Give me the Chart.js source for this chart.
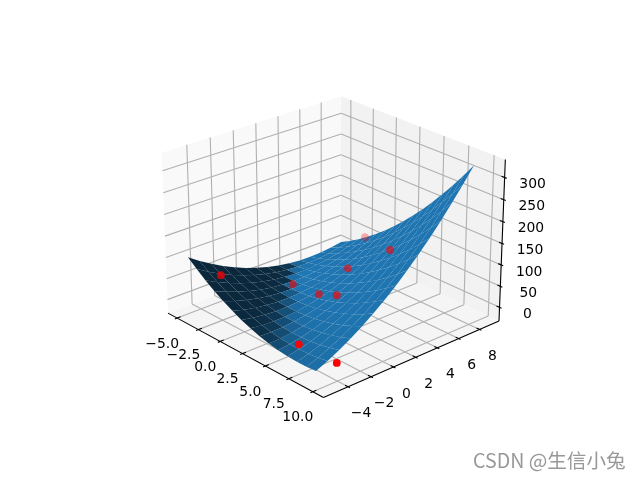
<!DOCTYPE html>
<html>
<head>
<meta charset="utf-8">
<style>html,body{margin:0;padding:0;background:#fff}canvas{display:block}</style>
<script src="https://cdn.jsdelivr.net/npm/chart.js@4"></script>
</head>
<body>
<canvas id="chart" width="640" height="480"></canvas>
<script>
// tick values and labels
const xTicks = [-5, -2.5, 0, 2.5, 5, 7.5, 10];
const xTickLabels = ["\u22125.0", "\u22122.5", "0.0", "2.5", "5.0", "7.5", "10.0"];
const yTicks = [-4, -2, 0, 2, 4, 6, 8];
const yTickLabels = ["\u22124", "\u22122", "0", "2", "4", "6", "8"];
const zTicks = [0, 50, 100, 150, 200, 250, 300];
const zTickLabels = ["0", "50", "100", "150", "200", "250", "300"];

// surface (one row per gridX value)
const gridX = [-5, -4, -3, -2, -1, 0, 1, 2, 3, 4, 5, 6, 7, 8, 9];
const gridY = [-5, -4, -3, -2, -1, 0, 1, 2, 3, 4, 5, 6, 7, 8, 9];
const surfaceZ = [
  [100.9, 82.4, 65.7, 50.7, 37.5, 26.0, 16.3, 8.3, 2.1, -2.3, -5.0, -5.9, -5.0, -2.4, 2.0],
  [83.3, 66.9, 52.4, 39.5, 28.5, 19.2, 11.6, 5.9, 1.8, -0.4, -0.9, 0.3, 3.4, 8.1, 14.7],
  [67.1, 53.0, 40.6, 29.9, 21.0, 13.9, 8.5, 4.9, 3.1, 3.0, 4.6, 8.1, 13.3, 20.2, 28.9],
  [52.4, 40.4, 30.2, 21.7, 15.0, 10.1, 6.9, 5.4, 5.8, 7.9, 11.7, 17.3, 24.7, 33.8, 44.7],
  [39.3, 29.4, 21.4, 15.1, 10.5, 7.8, 6.7, 7.5, 10.0, 14.2, 20.3, 28.0, 37.6, 48.9, 61.9],
  [27.6, 20.0, 14.1, 9.9, 7.6, 7.0, 8.1, 11.0, 15.7, 22.1, 30.3, 40.3, 52.0, 65.4, 80.7],
  [17.4, 11.9, 8.2, 6.3, 6.1, 7.6, 11.0, 16.1, 22.9, 31.5, 41.9, 54.0, 67.9, 83.6, 101.0],
  [8.7, 5.4, 3.9, 4.1, 6.1, 9.8, 15.3, 22.6, 31.6, 42.4, 54.9, 69.2, 85.3, 103.1, 122.7],
  [1.6, 0.5, 1.1, 3.5, 7.6, 13.5, 21.2, 30.6, 41.8, 54.8, 69.5, 86.0, 104.2, 124.2, 145.9],
  [-4.1, -3.1, -0.3, 4.3, 10.6, 18.7, 28.6, 40.2, 53.6, 68.7, 85.6, 104.2, 124.6, 146.8, 170.7],
  [-8.3, -5.1, -0.1, 6.7, 15.2, 25.4, 37.4, 51.2, 66.8, 84.1, 103.1, 123.9, 146.5, 170.9, 197.0],
  [-10.9, -5.5, 1.6, 10.5, 21.2, 33.6, 47.8, 63.8, 81.5, 101.0, 122.2, 145.2, 169.9, 196.4, 224.7],
  [-12.1, -4.5, 4.8, 15.9, 28.7, 43.3, 59.7, 77.8, 97.7, 119.3, 142.7, 167.9, 194.8, 223.5, 253.9],
  [-11.8, -2.1, 9.4, 22.7, 37.7, 54.5, 73.0, 93.3, 115.4, 139.2, 164.8, 192.1, 221.2, 252.1, 284.7],
  [-10.0, 2.0, 15.6, 31.1, 48.3, 67.2, 87.9, 110.4, 134.6, 160.6, 188.4, 217.9, 249.1, 282.1, 316.9]
];

// red points
const scatterX = [9.7, 7.1, -1.2, 0.4, 2.5, 4.06, 2.74, 4.67, -0.78];
const scatterY = [-3.8, -4.9, -5.0, 0.0, 0.63, 0.95, 3.07, 5.29, 7.7];
const scatterZ = [3.3, 28, 98, 43, 35, 46, 74, 115, 68];

// view
const xBox = [-6.09, 11.09], yBox = [-6.1, 9.9], zBox = [-32.5, 340.5];
const azim = -42 * Math.PI / 180, elev = 24.5 * Math.PI / 180;
const halfXY = 0.605, halfZ = 0.45, dist = 10, S = 1998, cx = 333, cy = 238;

const u = [-Math.sin(azim), Math.cos(azim), 0];
const w = [Math.cos(elev)*Math.cos(azim), Math.cos(elev)*Math.sin(azim), Math.sin(elev)];
const v = [w[1]*u[2]-w[2]*u[1], w[2]*u[0]-w[0]*u[2], w[0]*u[1]-w[1]*u[0]];

// 3D data -> 2D values for the chart's x and y scales
function project(x, y, z) {
  const q = [
    (x-(xBox[0]+xBox[1])/2)/((xBox[1]-xBox[0])/2)*halfXY,
    (y-(yBox[0]+yBox[1])/2)/((yBox[1]-yBox[0])/2)*halfXY,
    (z-(zBox[0]+zBox[1])/2)/((zBox[1]-zBox[0])/2)*halfZ
  ];
  const d = q[0]*w[0]+q[1]*w[1]+q[2]*w[2];
  const den = dist - d;
  return { x: (q[0]*u[0]+q[1]*u[1])/den, y: (q[0]*v[0]+q[1]*v[1]+q[2]*v[2])/den, depth: d };
}

// chart draws lowest order on top, so later datasets get a lower order
const datasets = [];
function add(points, o) {
  datasets.push(Object.assign({ data: points, showLine: true, pointRadius: 0, borderWidth: 0, tension: 0, clip: false, order: -datasets.length }, o));
}
function poly(points, color) { add(points.map(p => project(...p)), { fill: "shape", backgroundColor: color }); }
function line(a, b, color, width) { add([project(...a), project(...b)], { fill: false, borderColor: color, borderWidth: width }); }

// panes, grid, axes
const [x0, x1] = xBox, [y0, y1] = yBox, [z0, z1] = zBox;
poly([[x0,y0,z0],[x0,y1,z0],[x0,y1,z1],[x0,y0,z1]], "rgb(249,249,249)");
poly([[x0,y1,z0],[x1,y1,z0],[x1,y1,z1],[x0,y1,z1]], "rgb(242,242,242)");
poly([[x0,y0,z0],[x1,y0,z0],[x1,y1,z0],[x0,y1,z0]], "rgb(245,245,245)");
const gridColor = "#b0b0b0";
xTicks.forEach(t => { line([t,y0,z0],[t,y1,z0],gridColor,1.1); line([t,y1,z0],[t,y1,z1],gridColor,1.1); });
yTicks.forEach(t => { line([x0,t,z0],[x1,t,z0],gridColor,1.1); line([x0,t,z0],[x0,t,z1],gridColor,1.1); });
zTicks.forEach(t => { line([x0,y0,t],[x0,y1,t],gridColor,1.1); line([x0,y1,t],[x1,y1,t],gridColor,1.1); });
line([x0,y0,z0],[x1,y0,z0],"#000",1.1);
line([x1,y0,z0],[x1,y1,z0],"#000",1.1);
line([x1,y1,z0],[x1,y1,z1],"#000",1.1);
xTicks.forEach(t => line([t,y0+0.3,z0],[t,y0-0.2,z0],"#000",1.1));
yTicks.forEach(t => line([x1-0.3,t,z0],[x1+0.2,t,z0],"#000",1.1));
zTicks.forEach(t => line([x1-0.3,y1,t],[x1+0.2,y1,t],"#000",1.1));

// surface quads, far ones first, shaded from the normal
const light = [-0.667, -0.667, 0.333];
const quads = [];
for (let i = 0; i < gridX.length-1; i++) for (let j = 0; j < gridY.length-1; j++) {
  const p = [[i,j],[i+1,j],[i+1,j+1],[i,j+1]].map(([a,b]) => [gridX[a],gridY[b],surfaceZ[a][b]]);
  const a = [p[1][0]-p[0][0],p[1][1]-p[0][1],p[1][2]-p[0][2]], b = [p[2][0]-p[1][0],p[2][1]-p[1][1],p[2][2]-p[1][2]];
  const n = [a[1]*b[2]-a[2]*b[1], a[2]*b[0]-a[0]*b[2], a[0]*b[1]-a[1]*b[0]];
  const len = Math.hypot(...n);
  const k = 0.3 + 0.7*((n[0]*light[0]+n[1]*light[1]+n[2]*light[2])/len+1)/2;
  const depth = p.reduce((s,c) => s+project(...c).depth, 0)/4;
  quads.push({ p, depth, color: `rgb(${31*k},${119*k},${180*k})` });
}
quads.sort((a,b) => a.depth-b.depth).forEach(q => poly(q.p, q.color));

// points fade with depth
const pts = scatterX.map((x,i) => project(x, scatterY[i], scatterZ[i]));
const dMin = Math.min(...pts.map(p => p.depth)), dMax = Math.max(...pts.map(p => p.depth));
add(pts, { showLine: false, pointRadius: 3.9, pointBorderWidth: 0,
  pointBackgroundColor: pts.map(p => `rgba(255,0,0,${0.3+0.7*(p.depth-dMin)/(dMax-dMin)})`) });

const labelsPlugin = {
  id: "labels",
  afterDatasetsDraw(chart) {
    const c = chart.ctx, sx = chart.scales.x, sy = chart.scales.y;
    c.save();
    c.fillStyle = "#000"; c.font = '13.9px "DejaVu Sans"'; c.textAlign = "center"; c.textBaseline = "middle";
    const put = (txt, p, dx, dy) => c.fillText(txt, sx.getPixelForValue(p.x)+dx, sy.getPixelForValue(p.y)+dy);
    xTicks.forEach((t,i) => put(xTickLabels[i], project(t,y0,z0), -15, 26));
    yTicks.forEach((t,i) => put(yTickLabels[i], project(x1,t,z0), 13, 27));
    zTicks.forEach((t,i) => put(zTickLabels[i], project(x1,y1,t), 28, 7));
    c.fillStyle = "#989898"; c.font = '19.6px "Noto Sans CJK SC"'; c.textAlign = "left";
    c.fillText("CSDN @生信小兔", 473, 461);
    c.restore();
  }
};

new Chart(document.getElementById("chart"), {
  type: "scatter",
  data: { datasets },
  plugins: [labelsPlugin],
  options: {
    responsive: false, animation: false, layout: { padding: 0 },
    plugins: { legend: { display: false }, tooltip: { enabled: false } },
    scales: {
      x: { display: false, min: -cx/S, max: (640-cx)/S },
      y: { display: false, min: (cy-480)/S, max: cy/S }
    }
  }
});
</script>
</body>
</html>
